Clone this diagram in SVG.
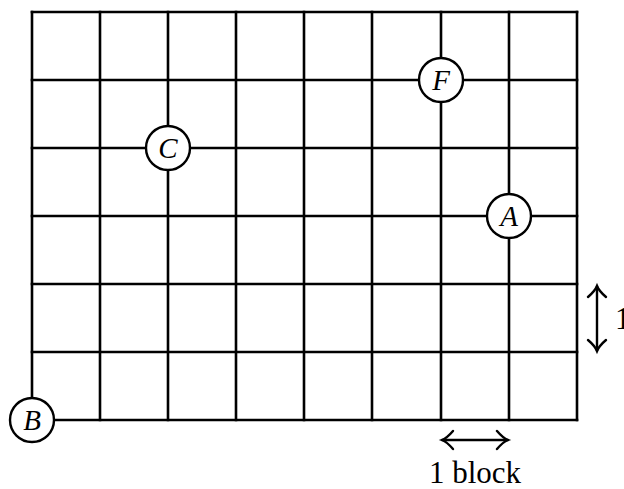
<svg xmlns="http://www.w3.org/2000/svg" width="624" height="489" viewBox="0 0 624 489">
<rect width="624" height="489" fill="#fff"/>
<g id="connectors">
<g stroke="#000" stroke-width="2.6" fill="none" stroke-linecap="square">
<path d="M32 12V420M100 12V420M168 12V420M236 12V420M304 12V420M372 12V420M441 12V420M509 12V420M577 12V420"/>
<path d="M32 12H577M32 80H577M32 148H577M32 216H577M32 284H577M32 352H577M32 420H577"/>
</g>
<g stroke="#000" stroke-width="2.4" fill="none" stroke-linecap="round">
<path d="M442 440H508"/>
<path d="M453 431Q447 438 442 440Q447 442 453 449"/>
<path d="M497 431Q503 438 508 440Q503 442 497 449"/>
<path d="M597 286V351"/>
<path d="M588 297Q595 291 597 286Q599 291 606 297"/>
<path d="M588 340Q595 346 597 351Q599 346 606 340"/>
</g>
</g>
<g id="nodes" fill="#fff" stroke="#000" stroke-width="2.4">
<g id="B"><circle cx="32" cy="420" r="22"/><text x="32" y="430" fill="#000" stroke="none" font-family="Times New Roman" font-style="italic" font-size="29" text-anchor="middle">B</text></g>
<g id="C"><circle cx="168" cy="148" r="22"/><text x="168" y="158" fill="#000" stroke="none" font-family="Times New Roman" font-style="italic" font-size="29" text-anchor="middle">C</text></g>
<g id="F"><circle cx="441" cy="80" r="22"/><text x="441" y="90" fill="#000" stroke="none" font-family="Times New Roman" font-style="italic" font-size="29" text-anchor="middle">F</text></g>
<g id="A"><circle cx="509" cy="216" r="22"/><text x="509" y="226" fill="#000" stroke="none" font-family="Times New Roman" font-style="italic" font-size="29" text-anchor="middle">A</text></g>
</g>
<text x="475" y="483" font-family="Times New Roman" font-size="31" text-anchor="middle">1 block</text>
<text x="615" y="329" font-family="Times New Roman" font-size="31">1 block</text>
</svg>
